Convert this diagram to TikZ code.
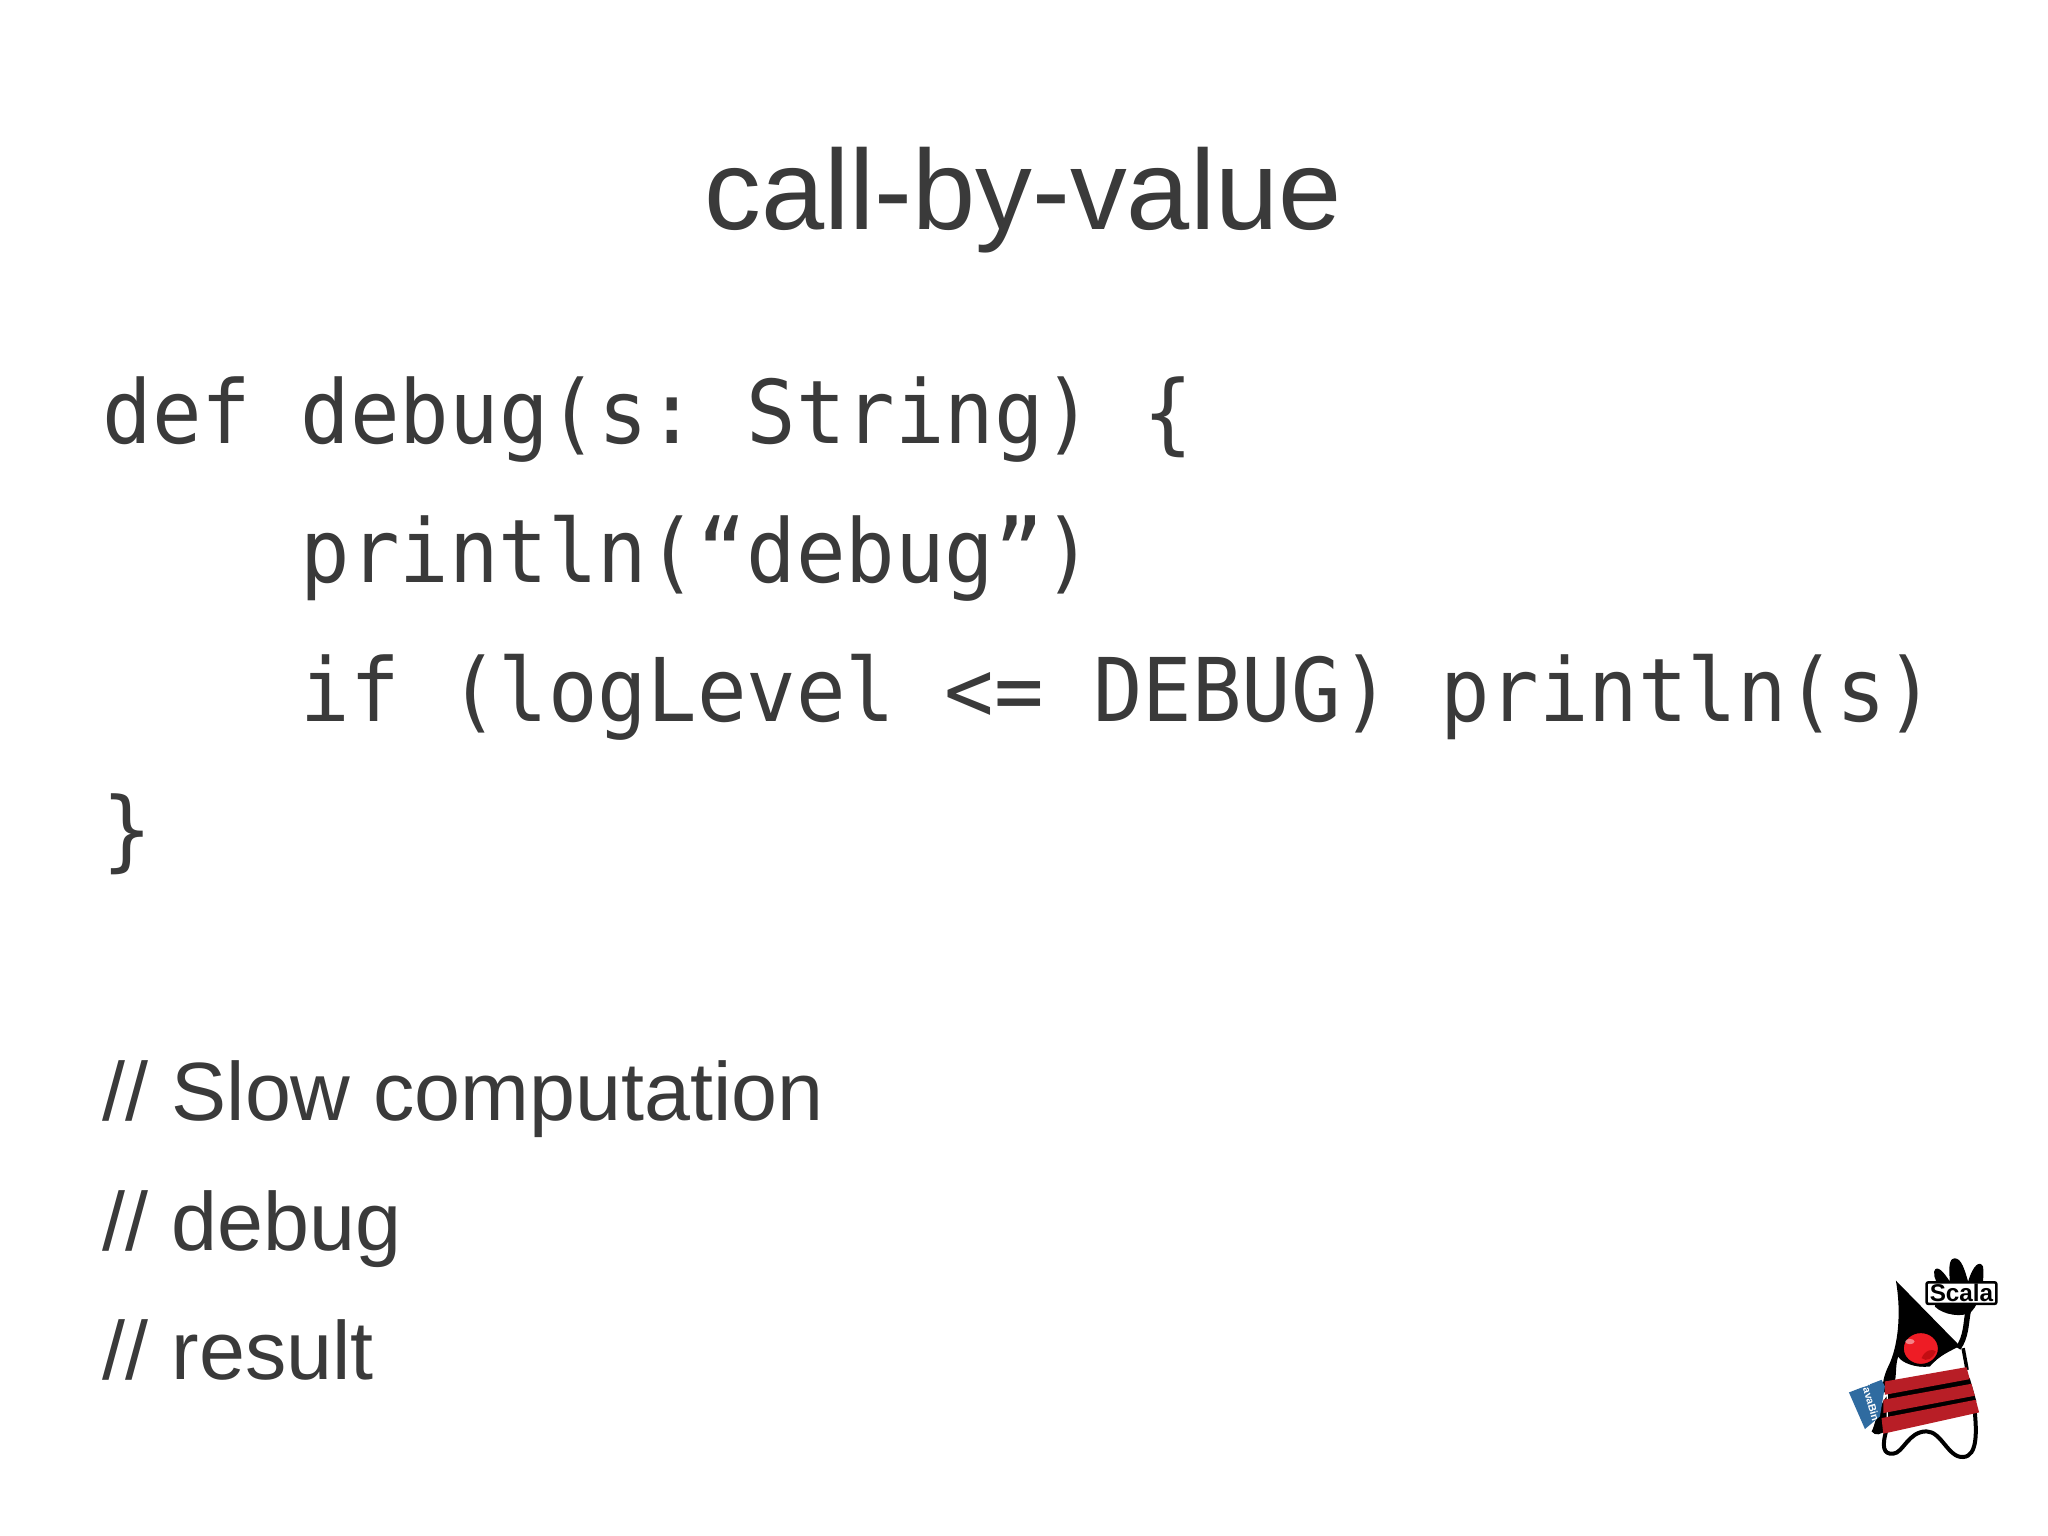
\documentclass[tikz,border=0pt]{standalone}
\usepackage{fontspec}
\setmainfont{Liberation Sans}
\setmonofont[FakeStretch=0.936]{DejaVu Sans Mono}
\definecolor{slidetext}{HTML}{3A3A3A}
\definecolor{ropered}{HTML}{B81E26}
\definecolor{bookblue}{HTML}{2F6BA0}
\definecolor{noseRed}{HTML}{EE1C25}
\tikzset{
	titletext/.style={anchor=base,inner sep=0pt,text=slidetext,font=\fontsize{32.3pt}{34pt}\selectfont},
	codetext/.style={anchor=base west,inner sep=0pt,text=slidetext,font=\fontsize{25pt}{27pt}\ttfamily},
	commenttext/.style={anchor=base west,inner sep=0pt,text=slidetext,font=\fontsize{23.5pt}{25pt}\selectfont},
	rope/.style={fill=ropered,draw=none},
}
\begin{document}
\begin{tikzpicture}[x=0.01cm,y=-0.01cm]
	\useasboundingbox (0,0) rectangle (2048,1535);
	\fill[white] (0,0) rectangle (2048,1535);
	\node[titletext] (title) at (1023,229) {call-by-value};
	\node[codetext] (line1) at (102,443) {def debug(s: String) \{};
	\node[codetext] (line2) at (300,582) {println(“debug”)};
	\node[codetext] (line3) at (300,721) {if (logLevel <= DEBUG) println(s)};
	\node[codetext] (line4) at (102,860) {\}};
	\node[commenttext] (slow) at (102,1120) {// Slow computation};
	\node[commenttext] (debug) at (102,1250) {// debug};
	\node[commenttext] (result) at (102,1379) {// result};
	\begin{scope}[shift={(1820,1240)},x=0.00333cm,y=-0.00333cm]
		% arm and hand
		\draw[line width=0.055cm] (415,325) .. controls (440,290) and (438,250) .. (445,215);
		\fill (345,200) .. controls (370,225) and (430,235) .. (455,215) .. controls (480,190) and (495,130) .. (490,80)
			.. controls (480,60) and (460,75) .. (445,125) .. controls (435,90) and (425,55) .. (405,55)
			.. controls (385,55) and (388,90) .. (390,125) .. controls (375,100) and (350,70) .. (343,95)
			.. controls (340,115) and (355,130) .. (360,150) -- cycle;
		% head
		\fill (228,122) -- (420,318) .. controls (390,335) and (360,345) .. (330,380)
			.. controls (290,385) and (245,370) .. (235,350) .. controls (225,380) and (232,400) .. (222,440)
			-- (190,460) .. controls (185,430) and (195,400) .. (205,380) .. controls (235,320) and (245,220) .. (228,122) -- cycle;
		% body outline
		\draw[line width=0.035cm] (430,325) -- (442,390);
		\draw[line width=0.04cm,line cap=round] (200,570) .. controls (185,620) and (190,645) .. (220,642)
			.. controls (250,640) and (265,575) .. (320,575) .. controls (365,575) and (385,655) .. (430,652)
			.. controls (475,650) and (470,570) .. (465,515);
		\fill (200,470) .. controls (170,510) and (165,560) .. (155,575) .. controls (165,590) and (185,585) .. (200,570) -- cycle;
		% book
		\fill[bookblue] (87,458) -- (185,420) -- (195,440) -- (180,530) -- (135,568) -- cycle;
		\node[rotate=-74,text=white,font=\fontsize{3pt}{4pt}\bfseries\selectfont,inner sep=0pt] (booktitle) at (150,490) {javaBin};
		% ropes
		\fill[black] (205,460) -- (450,415) -- (470,485) -- (205,532) -- cycle;
		\fill[rope] (195,425) -- (440,382) -- (450,418) -- (195,465) -- cycle;
		\fill[rope] (190,480) -- (455,432) -- (465,468) -- (190,520) -- cycle;
		\fill[rope] (185,535) -- (468,480) -- (478,518) -- (190,582) -- cycle;
		% nose
		\draw[fill=noseRed,line width=0.025cm] (303,326) ellipse (55 and 50);
		\fill[red!60!black,opacity=0.5] (305,355) .. controls (315,330) and (340,325) .. (348,335) .. controls (340,355) and (320,368) .. (305,355) -- cycle;
		\fill[white,opacity=0.45] (270,305) ellipse (14 and 8);
		% sign
		\draw[fill=white,line width=0.025cm,rounded corners=0.02cm] (320,127) rectangle (530,192);
		\node[font=\fontsize{6.9pt}{8pt}\bfseries\selectfont,inner sep=0pt] (sign) at (425,160) {Scala};
	\end{scope}
\end{tikzpicture}
\end{document}
